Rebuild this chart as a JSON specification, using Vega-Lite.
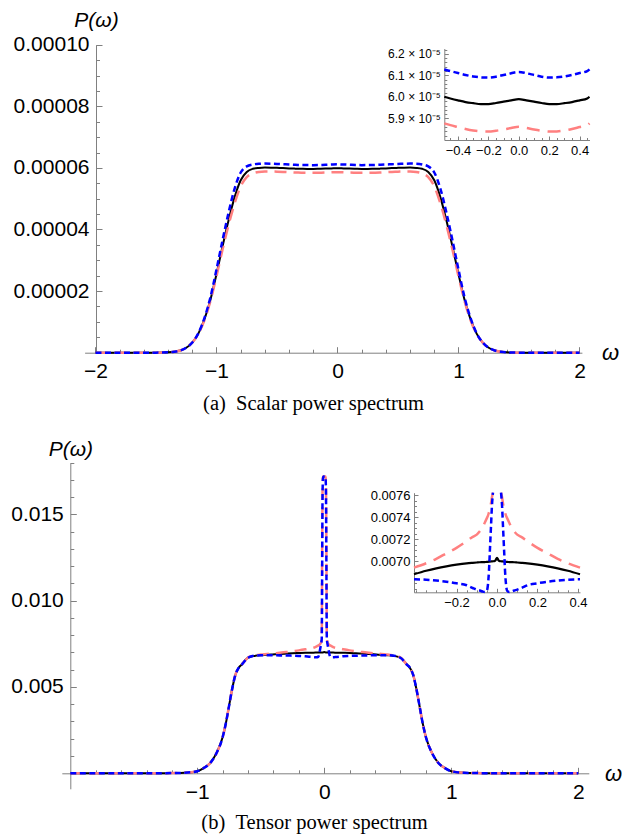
{
"$schema": "https://vega.github.io/schema/vega-lite/v6.json",
"width": 622, "height": 836, "padding": 0,
"autosize": {"type": "none"},
"background": "white",
"config": {
  "view": {"stroke": null},
  "axis": {"grid": false, "labelFont": "Liberation Sans", "labelColor": "black", "domainColor": "#808080", "tickColor": "#808080", "domainWidth": 1, "tickWidth": 1, "labelOverlap": false, "labelFlush": false, "titleFontWeight": "normal", "titleColor": "black", "titleFont": "Liberation Sans"}
},
"datasets": {
"scalar": [
{"w":-2,"black":0,"pink":0,"blue":0},
{"w":-1.8,"black":0,"pink":0,"blue":0},
{"w":-1.6,"black":0,"pink":0,"blue":0},
{"w":-1.5,"black":2e-8,"pink":2e-8,"blue":2e-8},
{"w":-1.4,"black":1.2e-7,"pink":1.2e-7,"blue":1.2e-7},
{"w":-1.35,"black":3e-7,"pink":3e-7,"blue":3e-7},
{"w":-1.3,"black":7e-7,"pink":7e-7,"blue":7e-7},
{"w":-1.25,"black":1.6e-6,"pink":1.6e-6,"blue":1.6e-6},
{"w":-1.2,"black":3.3e-6,"pink":3.3e-6,"blue":3.3e-6},
{"w":-1.15,"black":6.2e-6,"pink":6.1e-6,"blue":6.3e-6},
{"w":-1.1,"black":1.08e-5,"pink":1.05e-5,"blue":1.12e-5},
{"w":-1.05,"black":1.72e-5,"pink":1.68e-5,"blue":1.8e-5},
{"w":-1.0,"black":2.55e-5,"pink":2.48e-5,"blue":2.7e-5},
{"w":-0.95,"black":3.45e-5,"pink":3.35e-5,"blue":3.65e-5},
{"w":-0.9,"black":4.3e-5,"pink":4.15e-5,"blue":4.55e-5},
{"w":-0.85,"black":5.05e-5,"pink":4.85e-5,"blue":5.33e-5},
{"w":-0.8,"black":5.6e-5,"pink":5.4e-5,"blue":5.85e-5},
{"w":-0.75,"black":5.87e-5,"pink":5.7e-5,"blue":6.05e-5},
{"w":-0.7,"black":5.97e-5,"pink":5.82e-5,"blue":6.11e-5},
{"w":-0.65,"black":6.0e-5,"pink":5.87e-5,"blue":6.135e-5},
{"w":-0.6,"black":6.01e-5,"pink":5.882e-5,"blue":6.14e-5},
{"w":-0.55,"black":6.008e-5,"pink":5.882e-5,"blue":6.136e-5},
{"w":-0.5,"black":6.001e-5,"pink":5.877e-5,"blue":6.128e-5},
{"w":-0.45,"black":5.993e-5,"pink":5.869e-5,"blue":6.12e-5},
{"w":-0.4,"black":5.984e-5,"pink":5.86e-5,"blue":6.111e-5},
{"w":-0.35,"black":5.976e-5,"pink":5.851e-5,"blue":6.102e-5},
{"w":-0.3,"black":5.971e-5,"pink":5.844e-5,"blue":6.095e-5},
{"w":-0.25,"black":5.967e-5,"pink":5.84e-5,"blue":6.091e-5},
{"w":-0.2,"black":5.967e-5,"pink":5.839e-5,"blue":6.09e-5},
{"w":-0.15,"black":5.972e-5,"pink":5.843e-5,"blue":6.094e-5},
{"w":-0.1,"black":5.978e-5,"pink":5.849e-5,"blue":6.102e-5},
{"w":-0.05,"black":5.984e-5,"pink":5.856e-5,"blue":6.11e-5},
{"w":0,"black":5.99e-5,"pink":5.862e-5,"blue":6.116e-5},
{"w":0.05,"black":5.984e-5,"pink":5.856e-5,"blue":6.11e-5},
{"w":0.1,"black":5.978e-5,"pink":5.849e-5,"blue":6.102e-5},
{"w":0.15,"black":5.972e-5,"pink":5.843e-5,"blue":6.094e-5},
{"w":0.2,"black":5.967e-5,"pink":5.839e-5,"blue":6.09e-5},
{"w":0.25,"black":5.967e-5,"pink":5.84e-5,"blue":6.091e-5},
{"w":0.3,"black":5.971e-5,"pink":5.844e-5,"blue":6.095e-5},
{"w":0.35,"black":5.976e-5,"pink":5.851e-5,"blue":6.102e-5},
{"w":0.4,"black":5.984e-5,"pink":5.86e-5,"blue":6.111e-5},
{"w":0.45,"black":5.993e-5,"pink":5.869e-5,"blue":6.12e-5},
{"w":0.5,"black":6.001e-5,"pink":5.877e-5,"blue":6.128e-5},
{"w":0.55,"black":6.008e-5,"pink":5.882e-5,"blue":6.136e-5},
{"w":0.6,"black":6.01e-5,"pink":5.882e-5,"blue":6.14e-5},
{"w":0.65,"black":6.0e-5,"pink":5.87e-5,"blue":6.135e-5},
{"w":0.7,"black":5.97e-5,"pink":5.82e-5,"blue":6.11e-5},
{"w":0.75,"black":5.87e-5,"pink":5.7e-5,"blue":6.05e-5},
{"w":0.8,"black":5.6e-5,"pink":5.4e-5,"blue":5.85e-5},
{"w":0.85,"black":5.05e-5,"pink":4.85e-5,"blue":5.33e-5},
{"w":0.9,"black":4.3e-5,"pink":4.15e-5,"blue":4.55e-5},
{"w":0.95,"black":3.45e-5,"pink":3.35e-5,"blue":3.65e-5},
{"w":1.0,"black":2.55e-5,"pink":2.48e-5,"blue":2.7e-5},
{"w":1.05,"black":1.72e-5,"pink":1.68e-5,"blue":1.8e-5},
{"w":1.1,"black":1.08e-5,"pink":1.05e-5,"blue":1.12e-5},
{"w":1.15,"black":6.2e-6,"pink":6.1e-6,"blue":6.3e-6},
{"w":1.2,"black":3.3e-6,"pink":3.3e-6,"blue":3.3e-6},
{"w":1.25,"black":1.6e-6,"pink":1.6e-6,"blue":1.6e-6},
{"w":1.3,"black":7e-7,"pink":7e-7,"blue":7e-7},
{"w":1.35,"black":3e-7,"pink":3e-7,"blue":3e-7},
{"w":1.4,"black":1.2e-7,"pink":1.2e-7,"blue":1.2e-7},
{"w":1.5,"black":2e-8,"pink":2e-8,"blue":2e-8},
{"w":1.6,"black":0,"pink":0,"blue":0},
{"w":1.8,"black":0,"pink":0,"blue":0},
{"w":2,"black":0,"pink":0,"blue":0}
],
"tensor": [
{"w":-2,"black":0,"pink":0,"blue":0},
{"w":-1.6,"black":0,"pink":0,"blue":0},
{"w":-1.3,"black":0,"pink":0,"blue":0},
{"w":-1.2,"black":0.00001,"pink":0.00001,"blue":0.00001},
{"w":-1.1,"black":0.00003,"pink":0.00003,"blue":0.00003},
{"w":-1.0,"black":0.00012,"pink":0.00012,"blue":0.00012},
{"w":-0.95,"black":0.0003,"pink":0.0003,"blue":0.0003},
{"w":-0.9,"black":0.00058,"pink":0.00058,"blue":0.00058},
{"w":-0.85,"black":0.00115,"pink":0.00115,"blue":0.00115},
{"w":-0.8,"black":0.0021,"pink":0.0021,"blue":0.0021},
{"w":-0.775,"black":0.0029,"pink":0.0029,"blue":0.0029},
{"w":-0.75,"black":0.0039,"pink":0.0039,"blue":0.0039},
{"w":-0.725,"black":0.0049,"pink":0.0049,"blue":0.0049},
{"w":-0.7,"black":0.0057,"pink":0.0057,"blue":0.0057},
{"w":-0.675,"black":0.0061,"pink":0.0061,"blue":0.0061},
{"w":-0.65,"black":0.0063,"pink":0.0063,"blue":0.0063},
{"w":-0.6,"black":0.0067,"pink":0.00671,"blue":0.00669},
{"w":-0.55,"black":0.0068,"pink":0.00683,"blue":0.00681},
{"w":-0.5,"black":0.00684,"pink":0.00688,"blue":0.006834},
{"w":-0.45,"black":0.00686,"pink":0.00691,"blue":0.006835},
{"w":-0.41,"black":0.00688,"pink":0.00694,"blue":0.006834},
{"w":-0.35,"black":0.006912,"pink":0.00698,"blue":0.00683},
{"w":-0.3,"black":0.006934,"pink":0.00702,"blue":0.006823},
{"w":-0.25,"black":0.006952,"pink":0.00707,"blue":0.006812},
{"w":-0.2,"black":0.006967,"pink":0.00712,"blue":0.006798},
{"w":-0.15,"black":0.006979,"pink":0.00718,"blue":0.00678},
{"w":-0.12,"black":0.006984,"pink":0.00722,"blue":0.006755},
{"w":-0.1,"black":0.006987,"pink":0.00724,"blue":0.00674},
{"w":-0.085,"black":0.006989,"pink":0.00727,"blue":0.006732},
{"w":-0.07,"black":0.00699,"pink":0.00731,"blue":0.006722},
{"w":-0.06,"black":0.006991,"pink":0.00735,"blue":0.006719},
{"w":-0.05,"black":0.006992,"pink":0.00739,"blue":0.00673},
{"w":-0.045,"black":0.006993,"pink":0.00741,"blue":0.00678},
{"w":-0.04,"black":0.006994,"pink":0.00744,"blue":0.0069},
{"w":-0.035,"black":0.006995,"pink":0.00747,"blue":0.0071},
{"w":-0.03,"black":0.006996,"pink":0.00752,"blue":0.0073},
{"w":-0.025,"black":0.006997,"pink":0.00758,"blue":0.0075},
{"w":-0.02,"black":0.006998,"pink":0.0079,"blue":0.0078},
{"w":-0.017,"black":0.006998,"pink":0.0125,"blue":0.0115},
{"w":-0.014,"black":0.006999,"pink":0.0162,"blue":0.0158},
{"w":-0.012,"black":0.007,"pink":0.017,"blue":0.0168},
{"w":-0.01,"black":0.007003,"pink":0.0172,"blue":0.0171},
{"w":-0.007,"black":0.007008,"pink":0.0172,"blue":0.0172},
{"w":0,"black":0.00703,"pink":0.0172,"blue":0.0172},
{"w":0.007,"black":0.007008,"pink":0.0172,"blue":0.0172},
{"w":0.01,"black":0.007003,"pink":0.0172,"blue":0.0171},
{"w":0.012,"black":0.007,"pink":0.017,"blue":0.0168},
{"w":0.014,"black":0.006999,"pink":0.0162,"blue":0.0158},
{"w":0.017,"black":0.006998,"pink":0.0125,"blue":0.0115},
{"w":0.02,"black":0.006998,"pink":0.0079,"blue":0.0078},
{"w":0.025,"black":0.006997,"pink":0.00758,"blue":0.0075},
{"w":0.03,"black":0.006996,"pink":0.00752,"blue":0.0073},
{"w":0.035,"black":0.006995,"pink":0.00747,"blue":0.0071},
{"w":0.04,"black":0.006994,"pink":0.00744,"blue":0.0069},
{"w":0.045,"black":0.006993,"pink":0.00741,"blue":0.00678},
{"w":0.05,"black":0.006992,"pink":0.00739,"blue":0.00673},
{"w":0.06,"black":0.006991,"pink":0.00735,"blue":0.006719},
{"w":0.07,"black":0.00699,"pink":0.00731,"blue":0.006722},
{"w":0.085,"black":0.006989,"pink":0.00727,"blue":0.006732},
{"w":0.1,"black":0.006987,"pink":0.00724,"blue":0.00674},
{"w":0.12,"black":0.006984,"pink":0.00722,"blue":0.006755},
{"w":0.15,"black":0.006979,"pink":0.00718,"blue":0.00678},
{"w":0.2,"black":0.006967,"pink":0.00712,"blue":0.006798},
{"w":0.25,"black":0.006952,"pink":0.00707,"blue":0.006812},
{"w":0.3,"black":0.006934,"pink":0.00702,"blue":0.006823},
{"w":0.35,"black":0.006912,"pink":0.00698,"blue":0.00683},
{"w":0.41,"black":0.00688,"pink":0.00694,"blue":0.006834},
{"w":0.45,"black":0.00686,"pink":0.00691,"blue":0.006835},
{"w":0.5,"black":0.00684,"pink":0.00688,"blue":0.006834},
{"w":0.55,"black":0.0068,"pink":0.00683,"blue":0.00681},
{"w":0.6,"black":0.0067,"pink":0.00671,"blue":0.00669},
{"w":0.65,"black":0.0063,"pink":0.0063,"blue":0.0063},
{"w":0.675,"black":0.0061,"pink":0.0061,"blue":0.0061},
{"w":0.7,"black":0.0057,"pink":0.0057,"blue":0.0057},
{"w":0.725,"black":0.0049,"pink":0.0049,"blue":0.0049},
{"w":0.75,"black":0.0039,"pink":0.0039,"blue":0.0039},
{"w":0.775,"black":0.0029,"pink":0.0029,"blue":0.0029},
{"w":0.8,"black":0.0021,"pink":0.0021,"blue":0.0021},
{"w":0.85,"black":0.00115,"pink":0.00115,"blue":0.00115},
{"w":0.9,"black":0.00058,"pink":0.00058,"blue":0.00058},
{"w":0.95,"black":0.0003,"pink":0.0003,"blue":0.0003},
{"w":1.0,"black":0.00012,"pink":0.00012,"blue":0.00012},
{"w":1.1,"black":0.00003,"pink":0.00003,"blue":0.00003},
{"w":1.2,"black":0.00001,"pink":0.00001,"blue":0.00001},
{"w":1.3,"black":0,"pink":0,"blue":0},
{"w":1.6,"black":0,"pink":0,"blue":0},
{"w":2,"black":0,"pink":0,"blue":0}
]
},
"layer": [
{
 "data": {"name": "scalar"},
 "encoding": {
  "x": {"field": "w", "type": "quantitative",
   "scale": {"domain": [-2.09, 2.02], "range": [84.6, 581.9], "nice": false, "zero": false},
   "axis": {"orient": "bottom", "offset": -483.3, "values": [-2, -1, 0, 1, 2], "format": "d", "tickSize": -6, "labelPadding": 14, "labelFontSize": 21, "title": "ω", "titleX": 610, "titleY": 0, "titleAlign": "center", "titleBaseline": "middle", "titleAngle": 0, "titleFontSize": 22, "titleFontStyle": "italic"}},
  "y": {"field": "v", "type": "quantitative",
   "scale": {"domain": [0, 0.0001], "range": [352.7, 44.7], "nice": false, "zero": false},
   "axis": {"orient": "left", "offset": -96, "values": [0.00002, 0.00004, 0.00006, 0.00008, 0.0001], "format": ".5f", "tickSize": -6, "labelPadding": 13, "labelFontSize": 21, "title": "P(ω)", "titleAngle": 0, "titleX": 0, "titleY": 20, "titleAlign": "center", "titleBaseline": "middle", "titleFontSize": 21, "titleFontStyle": "italic"}}
 },
 "layer": [
  {"transform": [{"fold": ["black"], "as": ["k", "v"]}], "mark": {"type": "line", "color": "black", "strokeWidth": 2, "interpolate": "monotone"}},
  {"transform": [{"fold": ["pink"], "as": ["k", "v"]}], "mark": {"type": "line", "color": "#ff8080", "strokeWidth": 2.5, "strokeDash": [12, 7], "interpolate": "monotone"}},
  {"transform": [{"fold": ["blue"], "as": ["k", "v"]}], "mark": {"type": "line", "color": "#0000ff", "strokeWidth": 2.5, "strokeDash": [6, 3.5], "interpolate": "monotone"}}
 ]
},
{
 "data": {"name": "scalar"},
 "mark": {"type": "point", "opacity": 0},
 "encoding": {
  "x": {"field": "w", "type": "quantitative",
   "scale": {"domain": [-2.09, 2.02], "range": [84.6, 581.9], "nice": false, "zero": false},
   "axis": {"orient": "bottom", "offset": -483.3, "values": [-1.8, -1.6, -1.4, -1.2, -0.8, -0.6, -0.4, -0.2, 0.2, 0.4, 0.6, 0.8, 1.2, 1.4, 1.6, 1.8], "tickSize": -3.5, "labels": false, "domain": false, "title": "(a)\u00a0\u00a0Scalar power spectrum", "titleX": 313, "titleY": 51, "titleAlign": "center", "titleBaseline": "middle", "titleAngle": 0, "titleFont": "Liberation Serif", "titleFontSize": 20.5}},
  "y": {"field": "black", "type": "quantitative",
   "scale": {"domain": [0, 0.0001], "range": [352.7, 44.7], "nice": false, "zero": false},
   "axis": {"orient": "left", "offset": -96, "values": [0.000005, 0.00001, 0.000015, 0.000025, 0.00003, 0.000035, 0.000045, 0.00005, 0.000055, 0.000065, 0.00007, 0.000075, 0.000085, 0.00009, 0.000095], "tickSize": -3.5, "labels": false, "domain": false, "title": null}}
 }
},
{
 "data": {"name": "scalar"},
 "transform": [{"filter": "abs(datum.w) <= 0.5"}],
 "encoding": {
  "x": {"field": "w", "type": "quantitative",
   "scale": {"domain": [-0.49, 0.465], "range": [444.3, 589.5], "nice": false, "zero": false, "clamp": true},
   "axis": {"orient": "bottom", "offset": -696, "values": [-0.4, -0.2, 0, 0.2, 0.4], "format": ".1f", "tickSize": -4, "labelPadding": 8, "labelFontSize": 13, "title": null}},
  "y": {"field": "v", "type": "quantitative",
   "scale": {"domain": [5.8e-5, 6.225e-5], "range": [140, 48.5], "nice": false, "zero": false},
   "axis": {"orient": "left", "offset": -444.3, "values": [5.9e-5, 6.0e-5, 6.1e-5, 6.2e-5], "labelExpr": "format(datum.value*100000, '.1f') + ' × 10⁻⁵'", "tickSize": -4, "labelPadding": 8, "labelFontSize": 12, "title": null}}
 },
 "layer": [
  {"transform": [{"fold": ["black"], "as": ["k", "v"]}], "mark": {"type": "line", "color": "black", "strokeWidth": 2.2, "interpolate": "monotone"}},
  {"transform": [{"fold": ["pink"], "as": ["k", "v"]}], "mark": {"type": "line", "color": "#ff8080", "strokeWidth": 2.5, "strokeDash": [13, 8], "interpolate": "monotone"}},
  {"transform": [{"fold": ["blue"], "as": ["k", "v"]}], "mark": {"type": "line", "color": "#0000ff", "strokeWidth": 2.5, "strokeDash": [6, 3.5], "interpolate": "monotone"}}
 ]
},
{
 "data": {"name": "scalar"},
 "transform": [{"filter": "abs(datum.w) <= 0.5"}],
 "mark": {"type": "point", "opacity": 0},
 "encoding": {
  "x": {"field": "w", "type": "quantitative",
   "scale": {"domain": [-0.49, 0.465], "range": [444.3, 589.5], "nice": false, "zero": false, "clamp": true},
   "axis": {"orient": "bottom", "offset": -696, "values": [-0.45, -0.35, -0.3, -0.25, -0.15, -0.1, -0.05, 0.05, 0.1, 0.15, 0.25, 0.3, 0.35, 0.45], "tickSize": -2.5, "labels": false, "domain": false, "title": null}},
  "y": {"field": "black", "type": "quantitative",
   "scale": {"domain": [5.8e-5, 6.225e-5], "range": [140, 48.5], "nice": false, "zero": false, "clamp": true},
   "axis": {"orient": "left", "offset": -444.3, "values": [5.82e-5, 5.84e-5, 5.86e-5, 5.88e-5, 5.92e-5, 5.94e-5, 5.96e-5, 5.98e-5, 6.02e-5, 6.04e-5, 6.06e-5, 6.08e-5, 6.12e-5, 6.14e-5, 6.16e-5, 6.18e-5, 6.22e-5], "tickSize": -2.5, "labels": false, "domain": false, "title": null}}
 }
},
{
 "data": {"name": "tensor"},
 "encoding": {
  "x": {"field": "w", "type": "quantitative",
   "scale": {"domain": [-2.067, 2.083], "range": [61.8, 588.8], "nice": false, "zero": false},
   "axis": {"orient": "bottom", "offset": -62.7, "values": [-1, 0, 1, 2], "format": "d", "tickSize": -6, "labelPadding": 14, "labelFontSize": 21, "title": "ω", "titleX": 613, "titleY": 0, "titleAlign": "center", "titleBaseline": "middle", "titleAngle": 0, "titleFontSize": 22, "titleFontStyle": "italic"}},
  "y": {"field": "v", "type": "quantitative",
   "scale": {"domain": [-0.0009, 0.018], "range": [788.8, 462.6], "nice": false, "zero": false},
   "axis": {"orient": "left", "offset": -70.3, "values": [0.005, 0.01, 0.015], "format": ".3f", "tickSize": -6, "labelPadding": 13, "labelFontSize": 21, "title": "P(ω)", "titleAngle": 0, "titleX": 0, "titleY": 449, "titleAlign": "center", "titleBaseline": "middle", "titleFontSize": 21, "titleFontStyle": "italic"}}
 },
 "layer": [
  {"transform": [{"fold": ["black"], "as": ["k", "v"]}], "mark": {"type": "line", "color": "black", "strokeWidth": 2, "interpolate": "monotone"}},
  {"transform": [{"fold": ["pink"], "as": ["k", "v"]}], "mark": {"type": "line", "color": "#ff8080", "strokeWidth": 2.5, "strokeDash": [12, 7], "interpolate": "monotone"}},
  {"transform": [{"fold": ["blue"], "as": ["k", "v"]}], "mark": {"type": "line", "color": "#0000ff", "strokeWidth": 2.5, "strokeDash": [6, 3.5], "interpolate": "monotone"}}
 ]
},
{
 "data": {"name": "tensor"},
 "mark": {"type": "point", "opacity": 0},
 "encoding": {
  "x": {"field": "w", "type": "quantitative",
   "scale": {"domain": [-2.067, 2.083], "range": [61.8, 588.8], "nice": false, "zero": false},
   "axis": {"orient": "bottom", "offset": -62.7, "values": [-1.8, -1.6, -1.4, -1.2, -0.8, -0.6, -0.4, -0.2, 0.2, 0.4, 0.6, 0.8, 1.2, 1.4, 1.6, 1.8], "tickSize": -3.5, "labels": false, "domain": false, "title": "(b)\u00a0\u00a0Tensor power spectrum", "titleX": 314, "titleY": 49, "titleAlign": "center", "titleBaseline": "middle", "titleAngle": 0, "titleFont": "Liberation Serif", "titleFontSize": 20.5}},
  "y": {"field": "black", "type": "quantitative",
   "scale": {"domain": [-0.0009, 0.018], "range": [788.8, 462.6], "nice": false, "zero": false},
   "axis": {"orient": "left", "offset": -70.3, "values": [0.001, 0.002, 0.003, 0.004, 0.006, 0.007, 0.008, 0.009, 0.011, 0.012, 0.013, 0.014, 0.016, 0.017, 0.018], "tickSize": -3.5, "labels": false, "domain": false, "title": null}}
 }
},
{
 "data": {"name": "tensor"},
 "encoding": {
  "x": {"field": "w", "type": "quantitative",
   "scale": {"domain": [-0.41, 0.41], "range": [414, 580], "nice": false, "zero": false, "clamp": true},
   "axis": {"orient": "bottom", "offset": -243.7, "values": [-0.2, 0, 0.2, 0.4], "format": ".1f", "tickSize": -4, "labelPadding": 8, "labelFontSize": 13, "title": null}},
  "y": {"field": "v", "type": "quantitative",
   "scale": {"domain": [0.006716, 0.007621], "range": [592.3, 492.7], "nice": false, "zero": false, "clamp": true},
   "axis": {"orient": "left", "offset": -414, "values": [0.007, 0.0072, 0.0074, 0.0076], "format": ".4f", "tickSize": -4, "labelPadding": 8, "labelFontSize": 13, "title": null}}
 },
 "layer": [
  {"transform": [{"filter": "abs(datum.w) <= 0.41"}, {"fold": ["black"], "as": ["k", "v"]}], "mark": {"type": "line", "color": "black", "strokeWidth": 2.2, "interpolate": "monotone"}},
  {"transform": [{"filter": "datum.w >= -0.41 && datum.w <= -0.02"}, {"fold": ["pink"], "as": ["k", "v"]}], "mark": {"type": "line", "color": "#ff8080", "strokeWidth": 2.5, "strokeDash": [13, 8], "interpolate": "monotone"}},
  {"transform": [{"filter": "datum.w >= 0.02 && datum.w <= 0.41"}, {"fold": ["pink"], "as": ["k", "v"]}], "mark": {"type": "line", "color": "#ff8080", "strokeWidth": 2.5, "strokeDash": [13, 8], "interpolate": "monotone"}},
  {"transform": [{"filter": "datum.w >= -0.41 && datum.w <= -0.02"}, {"fold": ["blue"], "as": ["k", "v"]}], "mark": {"type": "line", "color": "#0000ff", "strokeWidth": 2.5, "strokeDash": [6, 3.5], "interpolate": "monotone"}},
  {"transform": [{"filter": "datum.w >= 0.02 && datum.w <= 0.41"}, {"fold": ["blue"], "as": ["k", "v"]}], "mark": {"type": "line", "color": "#0000ff", "strokeWidth": 2.5, "strokeDash": [6, 3.5], "interpolate": "monotone"}}
 ]
},
{
 "data": {"name": "tensor"},
 "transform": [{"filter": "abs(datum.w) <= 0.41"}],
 "mark": {"type": "point", "opacity": 0},
 "encoding": {
  "x": {"field": "w", "type": "quantitative",
   "scale": {"domain": [-0.41, 0.41], "range": [414, 580], "nice": false, "zero": false, "clamp": true},
   "axis": {"orient": "bottom", "offset": -243.7, "values": [-0.4, -0.35, -0.3, -0.25, -0.15, -0.1, -0.05, 0.05, 0.1, 0.15, 0.25, 0.3, 0.35], "tickSize": -2.5, "labels": false, "domain": false, "title": null}},
  "y": {"field": "black", "type": "quantitative",
   "scale": {"domain": [0.006716, 0.007621], "range": [592.3, 492.7], "nice": false, "zero": false, "clamp": true},
   "axis": {"orient": "left", "offset": -414, "values": [0.0068, 0.00675, 0.00685, 0.0069, 0.00695, 0.00705, 0.0071, 0.00715, 0.00725, 0.0073, 0.00735, 0.00745, 0.0075, 0.00755], "tickSize": -2.5, "labels": false, "domain": false, "title": null}}
 }
}
],
"resolve": {"scale": {"x": "independent", "y": "independent"}}
}
